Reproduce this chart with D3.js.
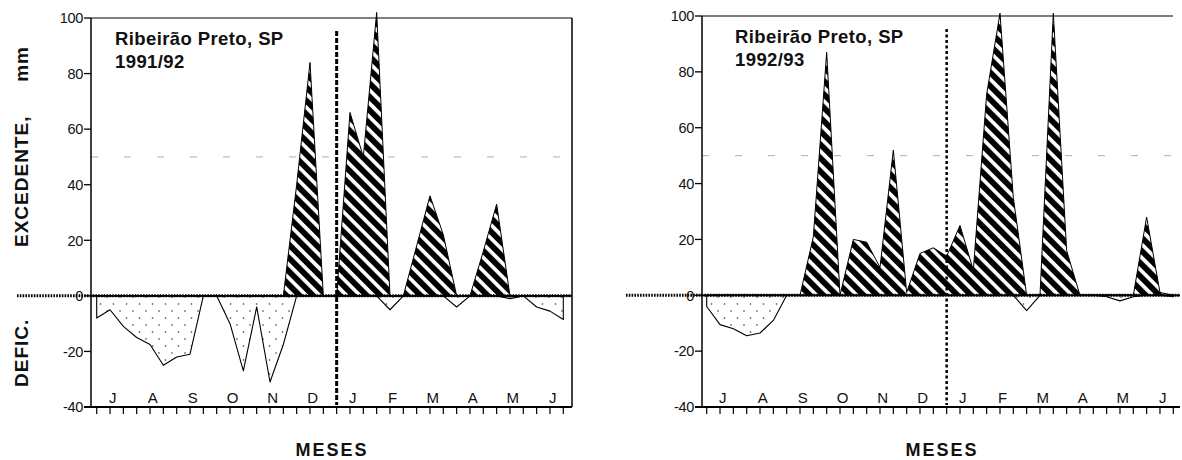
<!DOCTYPE html>
<html>
<head>
<meta charset="utf-8">
<script src="https://cdnjs.cloudflare.com/ajax/libs/d3/7.8.5/d3.min.js"></script>
<style>
  body { margin: 0; background: #fff; }
  svg { display: block; }
  text { font-family: Arial, "Liberation Sans", Helvetica, sans-serif; fill: #111; }
</style>
</head>
<body>
<div class="chart"></div>
<script>
"use strict";

// decendios (3 per month), July to June
var meses = ["J","A","S","O","N","D","J","F","M","A","M","J"];
var yTicks = [-40, -20, 0, 20, 40, 60, 80, 100];
var titulo = "Ribeirão Preto, SP";

var safra9192 = "1991/92";
var excedente9192 = [0,0,0,0,0,0,0,0,0,0,0,0,0,0,0,40,84,0,0,66,50,102,0,0,18,36,22,0,0,16,33,0,0,0,0,0];
var deficit9192   = [-8,-5,-11,-15,-17.5,-25,-22,-21,0,0,-10,-27,-4,-31,-17.5,0,0,0,0,0,0,0,-5,0,0,0,0,-4,0,0,0,-1,0,-4,-5.5,-8.5];

var safra9293 = "1992/93";
var excedente9293 = [0,0,0,0,0,0,0,0,21,87,0,20,19,10,52,1,15,17,14,25,9,72,101,35,0,0,101,16,0,0,0,0,0,28,1,0];
var deficit9293   = [-4,-10.5,-12,-14.5,-13.5,-9,0,0,0,0,0,0,0,0,0,0,0,0,0,0,0,0,0,0,-5.5,0,0,0,0,0,-0.5,-2,-0.5,0,0,-0.5];

var width = 1182,
    height = 460;

var svg = d3.select(".chart")
    .append("svg")
    .attr("width", width)
    .attr("height", height);

var defs = svg.append("defs");

// black/white diagonal stripes for the excess
var hatch = defs.append("pattern")
    .attr("id", "hatch")
    .attr("patternUnits", "userSpaceOnUse")
    .attr("width", 9.5)
    .attr("height", 9.5)
    .attr("patternTransform", "rotate(-45)");
hatch.append("rect").attr("width", 9.5).attr("height", 9.5).attr("fill", "#fff");
hatch.append("rect").attr("width", 5.8).attr("height", 9.5).attr("fill", "#000");

// sparse stipple for the deficit
var dots = defs.append("pattern")
    .attr("id", "dots")
    .attr("patternUnits", "userSpaceOnUse")
    .attr("width", 13)
    .attr("height", 14);
dots.append("rect").attr("width", 13).attr("height", 14).attr("fill", "#fff");
dots.append("circle").attr("cx", 3).attr("cy", 3).attr("r", 0.8).attr("fill", "#333");
dots.append("circle").attr("cx", 9.5).attr("cy", 10).attr("r", 0.8).attr("fill", "#333");

function balanco(cfg) {

  var x = d3.scaleLinear().domain([0, 35]).range([cfg.x0, cfg.x1]);
  var y = d3.scaleLinear().domain([-40, 100]).range([cfg.yBot, cfg.yTop]);

  var g = svg.append("g");

  // faint grid at 50
  g.append("line")
      .attr("x1", cfg.axisX).attr("x2", cfg.gridEnd)
      .attr("y1", y(50)).attr("y2", y(50))
      .style("stroke", "#999")
      .style("stroke-width", 0.8)
      .style("stroke-dasharray", "7,26");

  var area = d3.area()
      .x(function(d, i){ return x(i); })
      .y0(y(0))
      .y1(function(d){ return y(d); });

  g.append("path")
      .datum(cfg.deficit)
      .attr("d", area)
      .attr("fill", "url(#dots)")
      .style("stroke", "#000")
      .style("stroke-width", 1.1)
      .style("stroke-linejoin", "round");

  g.append("path")
      .datum(cfg.excedente)
      .attr("d", area)
      .attr("fill", "url(#hatch)")
      .style("stroke", "#000")
      .style("stroke-width", 1)
      .style("stroke-linejoin", "round");

  // frame
  g.append("line")
      .attr("x1", cfg.axisX).attr("x2", cfg.axisX)
      .attr("y1", cfg.yTop).attr("y2", cfg.yBot)
      .style("stroke", "#000").style("stroke-width", 1.5);
  g.append("line")
      .attr("x1", cfg.axisX).attr("x2", cfg.topEnd)
      .attr("y1", cfg.yTop).attr("y2", cfg.yTop)
      .style("stroke", "#000").style("stroke-width", 1.2);
  g.append("line")
      .attr("x1", cfg.axisX - 7).attr("x2", cfg.bottomEnd)
      .attr("y1", cfg.yBot).attr("y2", cfg.yBot)
      .style("stroke", "#000").style("stroke-width", 2);
  if (cfg.border) {
    g.append("line")
        .attr("x1", cfg.bottomEnd).attr("x2", cfg.bottomEnd)
        .attr("y1", cfg.yTop).attr("y2", cfg.yBot)
        .style("stroke", "#000").style("stroke-width", 1.5);
  }

  // y ticks
  var yt = g.append("g").selectAll("g")
      .data(yTicks)
      .enter().append("g")
      .attr("transform", function(d){ return "translate(0," + y(d) + ")"; });
  yt.append("line")
      .attr("x1", cfg.axisX - 7).attr("x2", cfg.axisX)
      .style("stroke", "#000").style("stroke-width", 1.3);
  yt.append("text")
      .attr("x", cfg.axisX - 8)
      .attr("dy", "0.36em")
      .attr("text-anchor", "end")
      .style("font-size", "14.5px")
      .style("letter-spacing", "-0.3px")
      .text(function(d){ return d; });

  // decendio ticks
  g.append("g").selectAll("line")
      .data(d3.range(36))
      .enter().append("line")
      .attr("x1", function(d){ return x(d); })
      .attr("x2", function(d){ return x(d); })
      .attr("y1", cfg.yBot)
      .attr("y2", cfg.yBot + 7)
      .style("stroke", "#000")
      .style("stroke-width", 1.2);

  // month letters
  g.append("g").selectAll("text")
      .data(meses)
      .enter().append("text")
      .attr("x", function(d, i){ return x(3 * i + 1.2); })
      .attr("y", cfg.yBot - 4)
      .attr("text-anchor", "middle")
      .style("font-size", "15px")
      .text(function(d){ return d; });

  // zero line: dotted lead-in plus solid across the plot
  g.append("line")
      .attr("x1", cfg.axisX).attr("x2", cfg.bottomEnd)
      .attr("y1", y(0)).attr("y2", y(0))
      .style("stroke", "#000").style("stroke-width", 1.8);
  g.append("line")
      .attr("x1", cfg.zeroFrom).attr("x2", cfg.bottomEnd)
      .attr("y1", y(0)).attr("y2", y(0))
      .style("stroke", "#000").style("stroke-width", 3)
      .style("stroke-dasharray", "1.6,1.2");

  // start of the calendar year
  g.append("line")
      .attr("x1", x(18)).attr("x2", x(18))
      .attr("y1", cfg.dashTop).attr("y2", cfg.yBot - 2)
      .style("stroke", "#000")
      .style("stroke-width", cfg.dashW)
      .style("stroke-dasharray", cfg.dash);

  // station / season
  var t = g.append("text")
      .attr("x", cfg.titleX)
      .attr("y", cfg.titleY)
      .style("font-size", "18.5px")
      .style("font-weight", "bold")
      .style("letter-spacing", "0.4px");
  t.append("tspan").attr("x", cfg.titleX).text(titulo);
  t.append("tspan").attr("x", cfg.titleX).attr("dy", 23).text(cfg.safra);

  g.append("text")
      .attr("x", cfg.mesesX)
      .attr("y", 456)
      .attr("text-anchor", "middle")
      .style("font-size", "18px")
      .style("font-weight", "bold")
      .style("letter-spacing", "2px")
      .text("MESES");
}

balanco({
  excedente: excedente9192, deficit: deficit9192, safra: safra9192,
  x0: 96.7, x1: 563.3, yTop: 18, yBot: 407,
  axisX: 91, topEnd: 572, bottomEnd: 572, gridEnd: 580, border: true,
  zeroFrom: 17, dashTop: 31, dashW: 3, dash: "5,2",
  titleX: 115, titleY: 45, mesesX: 332
});

balanco({
  excedente: excedente9293, deficit: deficit9293, safra: safra9293,
  x0: 706.7, x1: 1173.3, yTop: 16, yBot: 407,
  axisX: 702, topEnd: 1173, bottomEnd: 1180, gridEnd: 1180, border: false,
  zeroFrom: 626, dashTop: 29, dashW: 2.5, dash: "3,2.5",
  titleX: 735, titleY: 43, mesesX: 942
});

// y axis titles (left panel only)
svg.append("text")
    .attr("transform", "translate(28,247) rotate(-90)")
    .style("font-size", "19px")
    .style("font-weight", "bold")
    .style("letter-spacing", "1px")
    .text("EXCEDENTE,");
svg.append("text")
    .attr("transform", "translate(28,46) rotate(-90)")
    .attr("text-anchor", "end")
    .style("font-size", "19px")
    .style("font-weight", "bold")
    .style("letter-spacing", "1px")
    .text("mm");
svg.append("text")
    .attr("transform", "translate(28,387) rotate(-90)")
    .style("font-size", "19px")
    .style("font-weight", "bold")
    .style("letter-spacing", "1px")
    .text("DEFIC.");
</script>
</body>
</html>
